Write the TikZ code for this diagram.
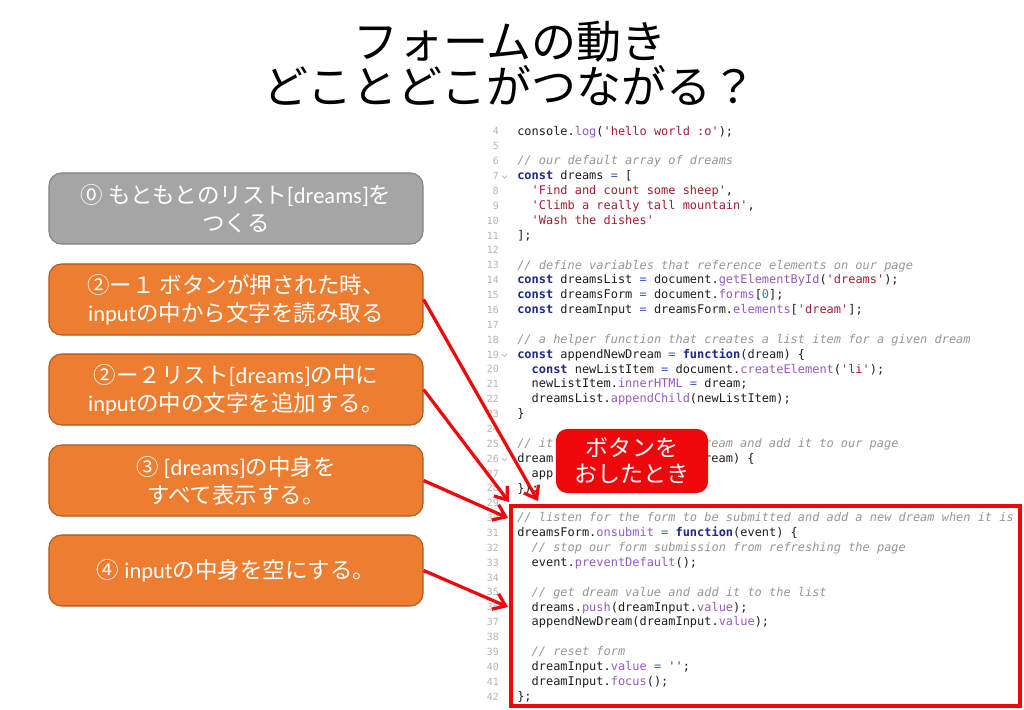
\documentclass[tikz,border=0pt]{standalone}
\usepackage{fontspec}
\setmainfont{Carlito}
\setmonofont{DejaVu Sans Mono}
\newfontfamily\jp{Noto Sans CJK JP}
\usetikzlibrary{arrows.meta}
\definecolor{orfill}{RGB}{237,125,49}
\definecolor{ordraw}{RGB}{174,90,33}
\definecolor{grfill}{RGB}{165,165,165}
\definecolor{grdraw}{RGB}{130,130,130}
\definecolor{redc}{RGB}{238,8,12}
\definecolor{kwc}{RGB}{28,40,140}
\definecolor{opc}{RGB}{60,90,200}
\definecolor{fnc}{RGB}{150,90,190}
\definecolor{strc}{RGB}{160,30,50}
\definecolor{cmc}{RGB}{150,150,150}
\definecolor{numc}{RGB}{40,140,140}
\definecolor{codec}{RGB}{30,30,30}
\definecolor{lnc}{RGB}{180,180,180}
\newcommand\kwd[1]{\textcolor{kwc}{\bfseries #1}}
\newcommand\opr[1]{\textcolor{opc}{#1}}
\newcommand\mth[1]{\textcolor{fnc}{#1}}
\newcommand\strg[1]{\textcolor{strc}{#1}}
\newcommand\cmt[1]{\textcolor{cmc}{\itshape #1}}
\newcommand\numc[1]{\textcolor{numc}{#1}}
\newcommand\codeln[3]{\node[code] (c#1) at ({517+#2*7.19},{132+(#1-4)*14.87+3.2}) {#3};}
\newcommand\codepart[4]{\node[code] (c#1#4) at ({517+#2*7.19},{132+(#1-4)*14.87+3.2}) {#3};}
\newcommand\numln[1]{\node[lnum] (n#1) at (499,{132+(#1-4)*14.87+3}) {#1};}
\newcommand\foldmk[1]{\draw[lnc,line width=0.5pt] (502,{132+(#1-4)*14.87-1}) -- (504.5,{132+(#1-4)*14.87+1.5}) -- (507,{132+(#1-4)*14.87-1});}
\tikzset{
  code/.style={anchor=base west, inner sep=0pt, text=codec, font=\ttfamily\fontsize{8.5}{10}\selectfont},
  lnum/.style={anchor=base east, inner sep=0pt, text=lnc, font=\ttfamily\fontsize{7}{8}\selectfont},
  ttl/.style={anchor=base, inner sep=0pt, font=\jp\fontsize{32}{34}\selectfont},
  stepbox/.style={rounded corners=9, minimum width=9.35cm, minimum height=1.775cm, inner sep=0pt,
     text=white, align=center, line width=0.8pt, font=\fontsize{16}{20}\selectfont},
  orbox/.style={stepbox, fill=orfill, draw=ordraw},
  grbox/.style={stepbox, fill=grfill, draw=grdraw},
  redlabel/.style={fill=redc, rounded corners=8, minimum width=3.8cm, minimum height=1.6cm, inner sep=0pt,
     text=white, align=center, font=\jp\fontsize{16.4}{18.5}\selectfont},
  frame/.style={draw=redc, line width=2.8pt, minimum width=12.725cm, minimum height=5cm, inner sep=0pt},
  link/.style={draw=redc, line width=2.3pt, -{Straight Barb[length=8pt,width=12pt]}}
}
\begin{document}
\begin{tikzpicture}[x=0.025cm,y=-0.025cm]
\useasboundingbox (0,0) rectangle (1024,709);
\fill[white] (0,0) rectangle (1024,709);
% title
\node[ttl] (ttl1) at (510,59) {フォームの動き};
\node[ttl] (ttl2) at (510,104) {どことどこがつながる？};
% code
\foreach \n in {4,5,...,42} {\numln{\n}}
\foldmk{7}\foldmk{19}\foldmk{26}
\codeln{4}{0}{console.\mth{log}(\strg{'hello world :o'});}
\codeln{6}{0}{\cmt{// our default array of dreams}}
\codeln{7}{0}{\kwd{const} dreams \opr{=} [}
\codeln{8}{2}{\strg{'Find and count some sheep'},}
\codeln{9}{2}{\strg{'Climb a really tall mountain'},}
\codeln{10}{2}{\strg{'Wash the dishes'}}
\codeln{11}{0}{];}
\codeln{13}{0}{\cmt{// define variables that reference elements on our page}}
\codeln{14}{0}{\kwd{const} dreamsList \opr{=} document.\mth{getElementById}(\strg{'dreams'});}
\codeln{15}{0}{\kwd{const} dreamsForm \opr{=} document.\mth{forms}[\numc{0}];}
\codeln{16}{0}{\kwd{const} dreamInput \opr{=} dreamsForm.\mth{elements}[\strg{'dream'}];}
\codeln{18}{0}{\cmt{// a helper function that creates a list item for a given dream}}
\codeln{19}{0}{\kwd{const} appendNewDream \opr{=} \kwd{function}(dream) \{}
\codeln{20}{2}{\kwd{const} newListItem \opr{=} document.\mth{createElement}(\strg{'li'});}
\codeln{21}{2}{newListItem.\mth{innerHTML} \opr{=} dream;}
\codeln{22}{2}{dreamsList.\mth{appendChild}(newListItem);}
\codeln{23}{0}{\}}
\codepart{25}{0}{\cmt{// it}}{a}
\codepart{25}{26}{\cmt{ream and add it to our page}}{b}
\codepart{26}{0}{dream}{a}
\codepart{26}{26}{ream) \{}{b}
\codepart{27}{2}{app}{a}
\codeln{28}{0}{\});}
\codeln{30}{0}{\cmt{// listen for the form to be submitted and add a new dream when it is}}
\codeln{31}{0}{dreamsForm.\mth{onsubmit} \opr{=} \kwd{function}(event) \{}
\codeln{32}{2}{\cmt{// stop our form submission from refreshing the page}}
\codeln{33}{2}{event.\mth{preventDefault}();}
\codeln{35}{2}{\cmt{// get dream value and add it to the list}}
\codeln{36}{2}{dreams.\mth{push}(dreamInput.\mth{value});}
\codeln{37}{2}{appendNewDream(dreamInput.\mth{value});}
\codeln{39}{2}{\cmt{// reset form}}
\codeln{40}{2}{dreamInput.\mth{value} \opr{=} \strg{''};}
\codeln{41}{2}{dreamInput.\mth{focus}();}
\codeln{42}{0}{\};}
% red frame and label
\node[frame] (frm) at (765.5,606) {};
\node[redlabel] (lbl) at (632,461) {ボタンを\\おしたとき};
% boxes
\node[grbox] (b0) at (236,208.5) {{\jp ⓪ もともとのリスト}[dreams]{\jp を}\\{\jp つくる}};
\node[orbox] (b1) at (236,299.5) {{\jp ②ー１ ボタンが押された時、}\\input{\jp の中から文字を読み取る}};
\node[orbox] (b2) at (236,389.5) {{\jp ②ー２リスト}[dreams]{\jp の中に}\\input{\jp の中の文字を追加する。}};
\node[orbox] (b3) at (236,480.5) {{\jp ③} [dreams]{\jp の中身を}\\{\jp すべて表示する。}};
\node[orbox] (b4) at (236,570.5) {{\jp ④} input{\jp の中身を空にする。}};
% arrows
\coordinate (e1) at (538,501);
\coordinate (e2) at (509,502);
\coordinate (e3) at (508,518);
\coordinate (e4) at (508,607);
\draw[link] (b1.east) -- (e1);
\draw[link] (b2.east) -- (e2);
\draw[link] (b3.east) -- (e3);
\draw[link] (b4.east) -- (e4);
\end{tikzpicture}
\end{document}
